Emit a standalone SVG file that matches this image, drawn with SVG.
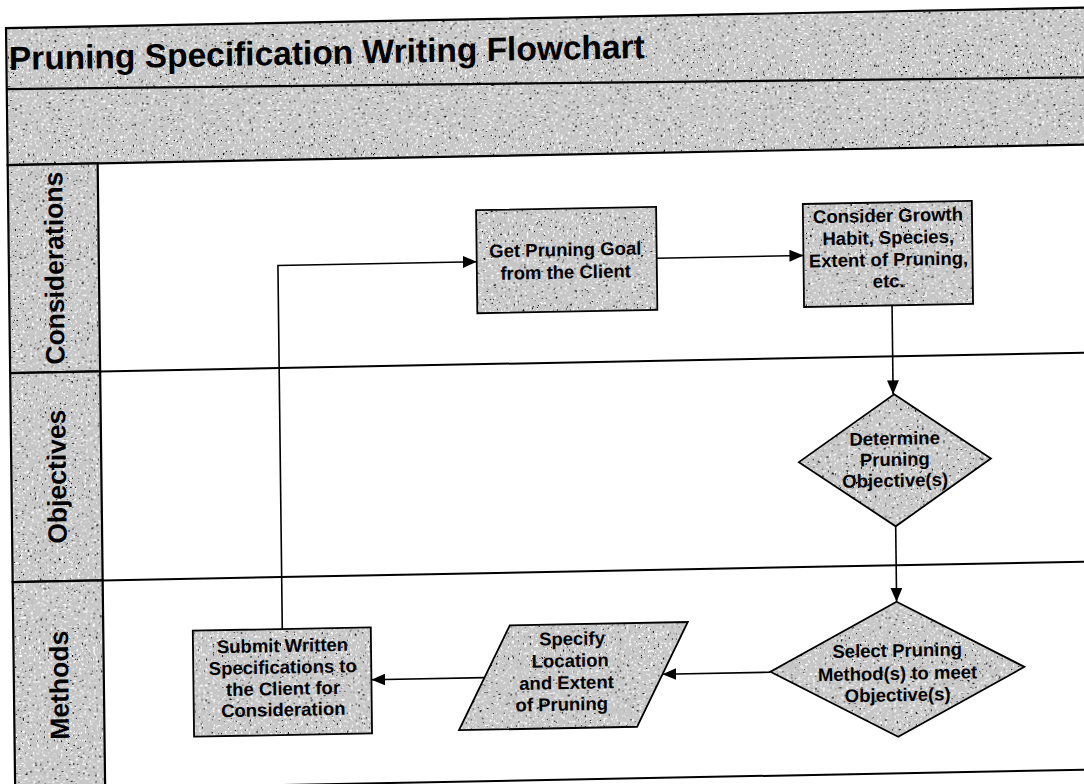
<svg xmlns="http://www.w3.org/2000/svg" width="1084" height="784" viewBox="0 0 1084 784">
<defs>
<filter id="grain" x="0" y="0" width="100%" height="100%" color-interpolation-filters="sRGB">
<feTurbulence type="fractalNoise" baseFrequency="0.42" numOctaves="2" seed="7" result="t"/>
<feColorMatrix in="t" type="matrix" values="0 0 0 0 0  0 0 0 0 0  0 0 0 0 0  16 0 0 0 -11.2" result="dark"/>
<feComposite in="dark" in2="SourceAlpha" operator="in" result="darkc"/>
<feColorMatrix in="t" type="matrix" values="0 0 0 0 1  0 0 0 0 1  0 0 0 0 1  0 -8 0 0 3.3" result="light"/>
<feComposite in="light" in2="SourceAlpha" operator="in" result="lightc"/>
<feMerge><feMergeNode in="SourceGraphic"/><feMergeNode in="lightc"/><feMergeNode in="darkc"/></feMerge>
</filter>
<marker id="arrow" viewBox="0 0 14 12" refX="14" refY="6" markerWidth="14" markerHeight="12" markerUnits="userSpaceOnUse" orient="auto">
<path d="M0,0 L14,6 L0,12 z" fill="#000"/>
</marker>
<style>
.fillg{fill:#c6c6c6;stroke:none;filter:url(#grain)}
.edge{fill:none;stroke:#000;stroke-width:2.2}
.line{fill:none;stroke:#000;stroke-width:2}
.outline{fill:none;stroke:#000;stroke-width:1.8}
.conn{fill:none;stroke:#000;stroke-width:1.6;marker-end:url(#arrow)}
.title{font-family:"Liberation Sans",Arial,sans-serif;font-weight:bold;font-size:33.5px;fill:#000}
.lane{font-family:"Liberation Sans",Arial,sans-serif;font-weight:bold;font-size:26.5px;fill:#000;text-anchor:middle}
.lbl{font-family:"Liberation Sans",Arial,sans-serif;font-weight:bold;font-size:18.5px;fill:#000;text-anchor:middle}
</style>
</defs>
<rect width="1084" height="784" fill="#fff"/>
<g transform="matrix(1,-0.019,0.012,1,-4.7,10.3)">
<g id="frame">
<rect class="fillg" x="10.5" y="18" width="1100" height="137"/>
<rect class="edge" x="10.5" y="18" width="1100" height="137"/>
<line class="edge" x1="10.5" y1="79" x2="1110" y2="88"/>
<text class="title" x="13" y="60">Pruning Specification Writing Flowchart</text>
<line class="line" x1="100.5" y1="363" x2="1110" y2="363"/>
<line class="line" x1="100.5" y1="572" x2="1110" y2="572"/>
<line class="line" x1="10.5" y1="780" x2="1110" y2="780"/>
</g>
<g id="lane-considerations">
<rect class="fillg" x="10.5" y="155" width="90" height="208"/>
<rect class="edge" x="10.5" y="155" width="90" height="208"/>
<text class="lane" transform="translate(65,259) rotate(-90)">Considerations</text>
</g>
<g id="lane-objectives">
<rect class="fillg" x="10.5" y="363" width="90" height="209"/>
<rect class="edge" x="10.5" y="363" width="90" height="209"/>
<text class="lane" transform="translate(65,467.5) rotate(-90)">Objectives</text>
</g>
<g id="lane-methods">
<rect class="fillg" x="10.5" y="572" width="90" height="208"/>
<rect class="edge" x="10.5" y="572" width="90" height="208"/>
<text class="lane" transform="translate(65,676) rotate(-90)">Methods</text>
</g>
<g id="connectors">
<path class="conn" d="M658.3,260.5 H805"/>
<path class="conn" d="M893,312 V401"/>
<path class="conn" d="M894,533 V608.5"/>
<path class="conn" d="M767,676.5 H659"/>
<path class="conn" d="M481,676.5 H368"/>
<path class="conn" d="M279.5,624 V260.5 H478.3"/>
</g>
<g id="node-get-goal">
<rect class="fillg" x="478.3" y="209" width="180" height="103"/>
<rect class="outline" x="478.3" y="209" width="180" height="103"/>
<text class="lbl" x="567" y="256.5">Get Pruning Goal</text>
<text class="lbl" x="567" y="279">from the Client</text>
</g>
<g id="node-consider">
<rect class="fillg" x="805" y="209" width="169" height="103"/>
<rect class="outline" x="805" y="209" width="169" height="103"/>
<text class="lbl" x="890" y="228.5">Consider Growth</text>
<text class="lbl" x="890" y="250.5">Habit, Species,</text>
<text class="lbl" x="890" y="272.5">Extent of Pruning,</text>
<text class="lbl" x="890" y="294">etc.</text>
</g>
<g id="node-determine">
<polygon class="fillg" points="894,401 990,467 894,533 798,467"/>
<polygon class="outline" points="894,401 990,467 894,533 798,467"/>
<text class="lbl" x="894" y="451.5">Determine</text>
<text class="lbl" x="894" y="472.5">Pruning</text>
<text class="lbl" x="894" y="493.5">Objective(s)</text>
</g>
<g id="node-select">
<polygon class="fillg" points="894,608.5 1021,676 894,743.5 767,676"/>
<polygon class="outline" points="894,608.5 1021,676 894,743.5 767,676"/>
<text class="lbl" x="894" y="663.5">Select Pruning</text>
<text class="lbl" x="894" y="686.5">Method(s) to meet</text>
<text class="lbl" x="894" y="708">Objective(s)</text>
</g>
<g id="node-specify">
<polygon class="fillg" points="507,624.7 685,624.7 633,728.5 455,728.5"/>
<polygon class="outline" points="507,624.7 685,624.7 633,728.5 455,728.5"/>
<text class="lbl" x="569" y="645.5">Specify</text>
<text class="lbl" x="567" y="667.5">Location</text>
<text class="lbl" x="563" y="689.5">and Extent</text>
<text class="lbl" x="558" y="711">of Pruning</text>
</g>
<g id="node-submit">
<rect class="fillg" x="190" y="624" width="178" height="106"/>
<rect class="outline" x="190" y="624" width="178" height="106"/>
<text class="lbl" x="279.5" y="647">Submit Written</text>
<text class="lbl" x="279.5" y="668.5">Specifications to</text>
<text class="lbl" x="279.5" y="690">the Client for</text>
<text class="lbl" x="279.5" y="711">Consideration</text>
</g>
</g>
</svg>
